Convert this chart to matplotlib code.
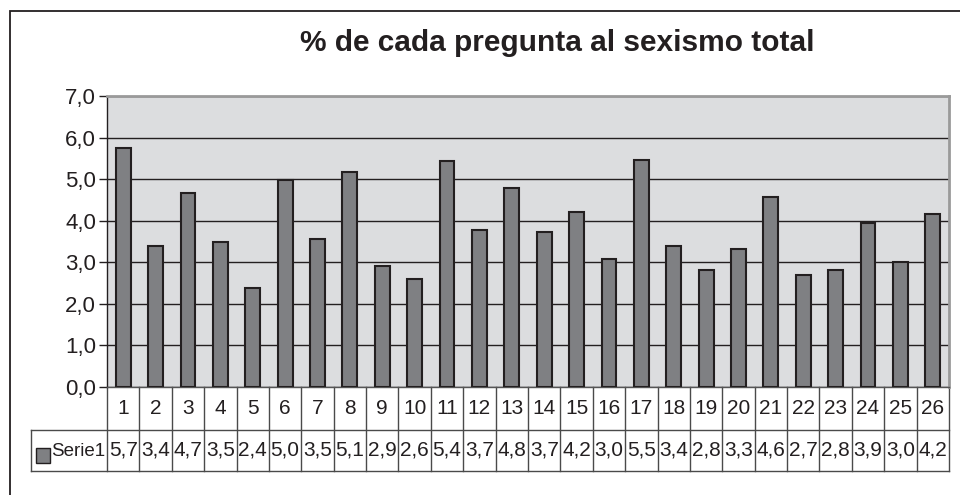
import matplotlib
matplotlib.use("Agg")
import matplotlib.pyplot as plt
from matplotlib import font_manager
from matplotlib.patches import Rectangle

# preguntas 1..26
categories = [str(i) for i in range(1, 27)]
# bar heights
values = [5.75, 3.40, 4.66, 3.49, 2.37, 4.98, 3.55, 5.16, 2.92, 2.60,
          5.43, 3.77, 4.79, 3.73, 4.22, 3.09, 5.47, 3.40, 2.81, 3.33,
          4.57, 2.69, 2.81, 3.95, 3.00, 4.17]
# values as printed in the data table
table_labels = ["5,7", "3,4", "4,7", "3,5", "2,4", "5,0", "3,5", "5,1", "2,9", "2,6",
                "5,4", "3,7", "4,8", "3,7", "4,2", "3,0", "5,5", "3,4", "2,8", "3,3",
                "4,6", "2,7", "2,8", "3,9", "3,0", "4,2"]
series_name = "Serie1"
yticks = [0, 1, 2, 3, 4, 5, 6, 7]
ytick_labels = ["0,0", "1,0", "2,0", "3,0", "4,0", "5,0", "6,0", "7,0"]
title = "% de cada pregunta al sexismo total"

ink = "#231f20"

# the original uses a narrow Arial; use a narrow face if there is one
installed = {f.name for f in font_manager.fontManager.ttflist}
if "Liberation Sans Narrow" in installed:
    narrow = ["Liberation Sans Narrow", "DejaVu Sans"]
    ysize, tsize, lsize = 17, 16, 16
else:
    narrow = ["Liberation Sans", "DejaVu Sans"]
    ysize, tsize, lsize = 16, 15, 13.5

fig = plt.figure(figsize=(9.6, 4.95), dpi=100)
W, H = 960, 495
ax = fig.add_axes([107 / W, 1 - 387 / H, (949 - 107) / W, (387 - 96) / H])
ax.set_facecolor("#dcdddf")

n = len(values)
x = list(range(n))
ax.bar(x, values, width=0.46, color="#7f8083", edgecolor=ink, linewidth=1.5, zorder=3)

ax.set_xlim(-0.5, n - 0.5)
ax.set_ylim(0, 7)
ax.set_yticks(yticks)
ax.set_yticklabels(ytick_labels, family=narrow, fontsize=ysize, color=ink)
ax.tick_params(axis="y", length=6, width=1, color=ink, pad=2)
ax.set_xticks([])
ax.yaxis.grid(True, color=ink, linewidth=1, zorder=1)
ax.set_axisbelow(True)

ax.spines["left"].set_color(ink)
ax.spines["left"].set_linewidth(1)
for s in ["top", "right"]:
    ax.spines[s].set_color("#9a9a9a")
    ax.spines[s].set_linewidth(2)
ax.spines["bottom"].set_color("#555555")
ax.spines["bottom"].set_linewidth(1)

# data table under the plot, in data x / pixel-derived axes y
row1 = -(430 - 387) / (387 - 96)
row2 = -(471 - 387) / (387 - 96)
tr = ax.get_xaxis_transform()
lc = "#4a4a4a"
left_leg = -0.5 - (107 - 31) / ((949 - 107) / n)
for i in range(n + 1):
    ax.plot([i - 0.5, i - 0.5], [0, row2], transform=tr, color=lc, lw=1, clip_on=False)
ax.plot([left_leg, n - 0.5], [row1, row1], transform=tr, color=lc, lw=1, clip_on=False)
ax.plot([left_leg, n - 0.5], [row2, row2], transform=tr, color=lc, lw=1, clip_on=False)
ax.plot([left_leg, left_leg], [row1, row2], transform=tr, color=lc, lw=1, clip_on=False)

for i, (c, t) in enumerate(zip(categories, table_labels)):
    ax.text(i, row1 / 2, c, transform=tr, ha="center", va="center",
            family=narrow, fontsize=tsize, color=ink, clip_on=False)
    ax.text(i, (row1 + row2) / 2, t, transform=tr, ha="center", va="center",
            family=narrow, fontsize=tsize, color=ink, clip_on=False)

# legend key + series name
fig.add_artist(Rectangle((36 / W, 1 - 463 / H), 14 / W, 15 / H, facecolor="#7f8083",
                         edgecolor=ink, lw=1, transform=fig.transFigure))
fig.text(51 / W, 1 - 451 / H, series_name, ha="left", va="center",
         family=narrow, fontsize=lsize, color=ink)

fig.text(557 / W, 1 - 43 / H, title, ha="center", va="center",
         fontsize=21.5, fontweight="bold", family=["Liberation Sans", "DejaVu Sans"], color=ink)

# outer chart border (cut off at right and bottom)
fig.add_artist(Rectangle((10 / W, -0.05), 1.1, 1.05 - 11 / H, facecolor="none",
                         edgecolor=ink, lw=1.3, transform=fig.transFigure))

fig.savefig("out.png", dpi=100)
